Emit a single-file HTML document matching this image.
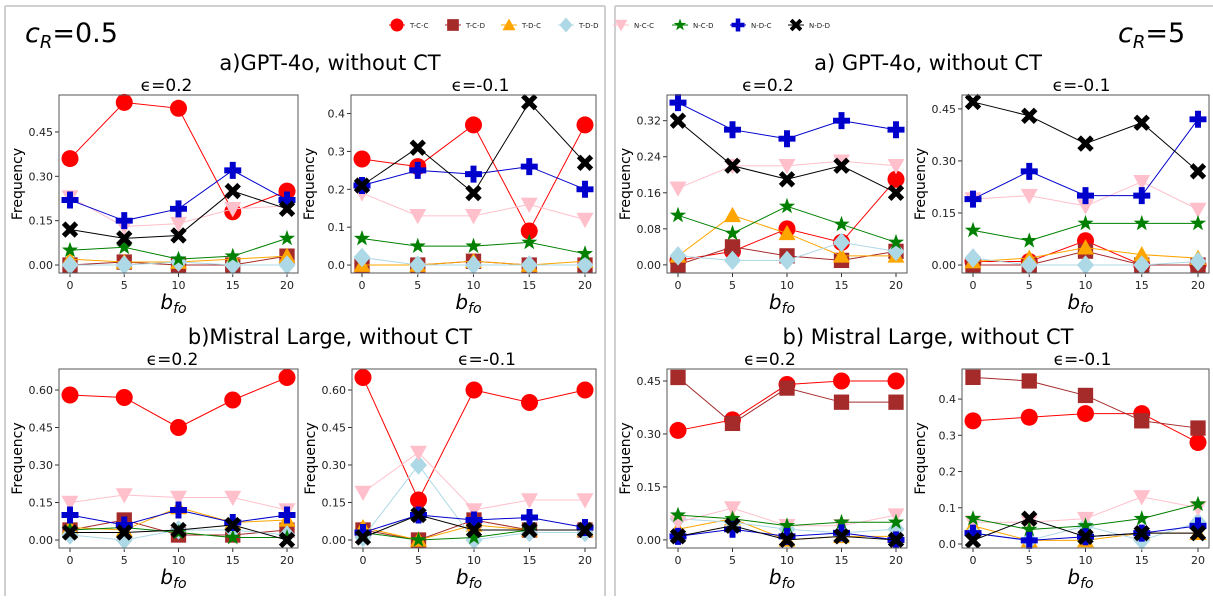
<!DOCTYPE html>
<html><head><meta charset="utf-8"><style>
body{margin:0;background:#fff;font-family:"DejaVu Sans","Liberation Sans",sans-serif}
svg text{font-family:"DejaVu Sans","Liberation Sans",sans-serif}
</style></head><body>
<svg id="fig" width="1213" height="596" xmlns="http://www.w3.org/2000/svg">
<rect x="0" y="0" width="1213" height="596" fill="#fff"/>
<path d="M5,6 H605 M5,6 V596 M605,6 V596" stroke="#d0d0d0" stroke-width="2" fill="none"/>
<path d="M615,6 H1213 M615,6 V596" stroke="#d0d0d0" stroke-width="2" fill="none"/>
<text x="25" y="42" font-size="27"><tspan font-style="italic">c</tspan><tspan font-style="italic" font-size="18" dy="6">R</tspan><tspan dy="-6">=0.5</tspan></text>
<text x="1118" y="42" font-size="27"><tspan font-style="italic">c</tspan><tspan font-style="italic" font-size="18" dy="6">R</tspan><tspan dy="-6">=5</tspan></text>
<text x="330" y="70" font-size="21" text-anchor="middle">a)GPT-4o, without CT</text>
<text x="928" y="70" font-size="21" text-anchor="middle">a) GPT-4o, without CT</text>
<text x="330" y="344" font-size="21" text-anchor="middle">b)Mistral Large, without CT</text>
<text x="928" y="344" font-size="21" text-anchor="middle">b) Mistral Large, without CT</text>
<g id="legend"></g>
<g id="plots"></g>
</svg>
<script>
const NS="http://www.w3.org/2000/svg";
const xCats=[0,5,10,15,20];
const seriesNames=["T-C-C","T-C-D","T-D-C","T-D-D","N-C-C","N-C-D","N-D-C","N-D-D"];
const seriesColors=["red","brown","orange","lightblue","pink","green","mediumblue","black"];
const seriesMarkers=["o","s","^","D","v","*","P","X"];
const p1=[[.36,.55,.53,.18,.25],[0,.01,0,0,.03],[.02,.01,.01,.02,.03],[0,0,.01,0,0],[.23,.13,.14,.19,.2],[.05,.06,.02,.03,.09],[.22,.15,.19,.32,.22],[.12,.09,.10,.25,.19]];
const p2=[[.28,.26,.37,.09,.37],[0,0,.01,0,0],[0,0,.01,0,.01],[.02,0,0,0,0],[.19,.13,.13,.16,.12],[.07,.05,.05,.06,.03],[.21,.25,.24,.26,.20],[.21,.31,.19,.43,.27]];
const p3=[[.01,.03,.08,.05,.19],[0,.04,.02,.01,.03],[.02,.11,.07,.02,.02],[.02,.01,.01,.05,.03],[.17,.22,.22,.23,.22],[.11,.07,.13,.09,.05],[.36,.30,.28,.32,.30],[.32,.22,.19,.22,.16]];
const p4=[[.01,.01,.07,0,0],[0,0,.04,0,0],[.01,.02,.05,.03,.02],[.02,0,0,0,.01],[.19,.20,.17,.24,.16],[.10,.07,.12,.12,.12],[.19,.27,.20,.20,.42],[.47,.43,.35,.41,.27]];
const p5=[[.58,.57,.45,.56,.65],[.04,.08,.02,.02,.04],[.05,.04,.13,.07,.08],[.02,0,.04,.04,.02],[.15,.18,.17,.17,.12],[.04,.05,.03,.01,.01],[.10,.06,.12,.07,.10],[.03,.03,.04,.06,0]];
const p6=[[.65,.16,.60,.55,.60],[.04,0,.08,.04,.04],[.05,0,.06,.04,.04],[.01,.30,0,.03,.03],[.19,.35,.12,.16,.16],[.03,0,.01,.04,.04],[.03,.10,.08,.09,.05],[.01,.10,.04,.04,.04]];
const p7=[[.31,.34,.44,.45,.45],[.46,.33,.43,.39,.39],[.03,.06,0,.01,.01],[.06,.05,.03,.02,.03],[.05,.09,.04,.04,.07],[.07,.06,.04,.05,.05],[.01,.03,.01,.02,0],[.01,.04,0,.01,0]];
const p8=[[.34,.35,.36,.36,.28],[.46,.45,.41,.34,.32],[.05,.01,.01,.03,.03],[.03,.01,.05,.01,.06],[.06,.06,.07,.13,.10],[.07,.04,.05,.07,.11],[.03,.01,.02,.03,.05],[.01,.07,.02,.03,.03]];
const ticks1=[0,.15,.30,.45], ticks2=[0,.1,.2,.3,.4], ticks3=[0,.08,.16,.24,.32], ticks4=[0,.15,.30,.45], ticks5=[0,.15,.30,.45,.60], ticks8=[0,.1,.2,.3,.4];
const panels=[
 {name:"gpt-cr05-eps02",d:p1,t:ticks1,dec:2,x0:59,x1:298,y0:95,y1:273,ymin:-.027,ymax:.575,eps:"ϵ=0.2",eo:-12},
 {name:"gpt-cr05-epsm01",d:p2,t:ticks2,dec:1,x0:351,x1:596,y0:95,y1:273,ymin:-.021,ymax:.449,eps:"ϵ=-0.1",eo:7},
 {name:"gpt-cr5-eps02",d:p3,t:ticks3,dec:2,x0:667,x1:907,y0:95,y1:273,ymin:-.018,ymax:.377,eps:"ϵ=0.2",eo:-19},
 {name:"gpt-cr5-epsm01",d:p4,t:ticks4,dec:2,x0:962,x1:1209,y0:95,y1:273,ymin:-.023,ymax:.49,eps:"ϵ=-0.1",eo:-4},
 {name:"mistral-cr05-eps02",d:p5,t:ticks5,dec:2,x0:59,x1:298,y0:369,y1:548,ymin:-.032,ymax:.684,eps:"ϵ=0.2",eo:-6},
 {name:"mistral-cr05-epsm01",d:p6,t:ticks5,dec:2,x0:352,x1:596,y0:369,y1:548,ymin:-.032,ymax:.684,eps:"ϵ=-0.1",eo:13},
 {name:"mistral-cr5-eps02",d:p7,t:ticks4,dec:2,x0:667,x1:907,y0:369,y1:548,ymin:-.023,ymax:.484,eps:"ϵ=0.2",eo:-17},
 {name:"mistral-cr5-epsm01",d:p8,t:ticks8,dec:1,x0:962,x1:1209,y0:369,y1:548,ymin:-.011,ymax:.483,eps:"ϵ=-0.1",eo:-3}
];
function el(tag,attrs,parent){const e=document.createElementNS(NS,tag);for(const k in attrs)e.setAttribute(k,attrs[k]);if(parent)parent.appendChild(e);return e;}
function marker(g,type,cx,cy,color,s){
 let e;
 if(type==="o") e=el("circle",{cx:cx,cy:cy,r:s},g);
 else if(type==="s") e=el("rect",{x:cx-s*0.9,y:cy-s*0.9,width:s*1.8,height:s*1.8},g);
 else if(type==="^") e=el("polygon",{points:`${cx},${cy-s} ${cx-s},${cy+s*0.8} ${cx+s},${cy+s*0.8}`},g);
 else if(type==="v") e=el("polygon",{points:`${cx},${cy+s} ${cx-s},${cy-s*0.8} ${cx+s},${cy-s*0.8}`},g);
 else if(type==="D") e=el("polygon",{points:`${cx},${cy-s*1.15} ${cx+s},${cy} ${cx},${cy+s*1.15} ${cx-s},${cy}`},g);
 else if(type==="*"){let p=[];for(let i=0;i<10;i++){const a=-Math.PI/2+i*Math.PI/5;const r=i%2?s*0.4:s;p.push((cx+r*Math.cos(a)).toFixed(1)+","+(cy+r*Math.sin(a)).toFixed(1));}e=el("polygon",{points:p.join(" ")},g);}
 else if(type==="P"){const a=s*0.35;e=el("polygon",{points:`${cx-a},${cy-s} ${cx+a},${cy-s} ${cx+a},${cy-a} ${cx+s},${cy-a} ${cx+s},${cy+a} ${cx+a},${cy+a} ${cx+a},${cy+s} ${cx-a},${cy+s} ${cx-a},${cy+a} ${cx-s},${cy+a} ${cx-s},${cy-a} ${cx-a},${cy-a}`},g);}
 else if(type==="X"){e=el("path",{d:`M${cx-s*0.75},${cy-s*0.75}L${cx+s*0.75},${cy+s*0.75}M${cx+s*0.75},${cy-s*0.75}L${cx-s*0.75},${cy+s*0.75}`,stroke:color,"stroke-width":s*0.6,"stroke-linecap":"butt"},g);return e;}
 e.setAttribute("fill",color);return e;
}
const plots=document.getElementById("plots");
panels.forEach(P=>{
 const g=el("g",{},plots);
 
 
 const xs=v=>P.x0+11+(v-xCats[0])/(xCats[xCats.length-1]-xCats[0])*(P.x1-P.x0-22);
 const ys=v=>P.y1-(v-P.ymin)/(P.ymax-P.ymin)*(P.y1-P.y0);
 P.t.forEach(t=>{const y=ys(t);el("line",{x1:P.x0-4,x2:P.x0,y1:y,y2:y,stroke:"#333"},g);
  const tx=el("text",{x:P.x0-6,y:y+4,"font-size":11,"text-anchor":"end",fill:"#222"},g);tx.textContent=t.toFixed(P.dec);
  
  });
 xCats.forEach(c=>{const x=xs(c);el("line",{x1:x,x2:x,y1:P.y1,y2:P.y1+4,stroke:"#333"},g);
  const tx=el("text",{x:x,y:P.y1+16,"font-size":11,"text-anchor":"middle",fill:"#222"},g);tx.textContent=c;
  
  });
 const yl=el("text",{x:0,y:0,"font-size":14,"text-anchor":"middle",transform:`translate(${P.x0-37},${(P.y0+P.y1)/2}) rotate(-90)`},g);yl.textContent="Frequency";
 
 
 const xl=el("text",{x:(P.x0+P.x1)/2-5,y:P.y1+36,"font-size":20,"font-style":"italic","text-anchor":"middle"},g);
 xl.innerHTML='b<tspan font-size="14" dy="4">fo</tspan>';
 
 
 const et=el("text",{x:(P.x0+P.x1)/2+P.eo,y:P.y0-4,"font-size":17,"text-anchor":"middle"},g);et.textContent=P.eps;
 
 
 const clip="c"+P.name;const cp=el("clipPath",{id:clip},g);el("rect",{x:P.x0-12,y:P.y0-12,width:P.x1-P.x0+24,height:P.y1-P.y0+24},cp);
 const sg=el("g",{"clip-path":`url(#${clip})`},g);
 P.d.forEach((vals,si)=>{
  const s=el("g",{},sg);
  
  
  el("polyline",{points:vals.map((v,i)=>xs(xCats[i])+","+ys(v)).join(" "),fill:"none",stroke:seriesColors[si],"stroke-width":1},s);
  vals.forEach((v,i)=>{const m=marker(s,seriesMarkers[si],xs(xCats[i]),ys(v),seriesColors[si],8.5);
   
   });
 });
 el("rect",{x:P.x0,y:P.y0,width:P.x1-P.x0,height:P.y1-P.y0,fill:"none",stroke:"#555","stroke-width":1},g);
});
const lg=document.getElementById("legend");
const legendX=[397,453,509,566,621,680,738,796];
seriesNames.forEach((n,i)=>{
 const it=el("g",{},lg);
 
 
 el("line",{x1:legendX[i]-8,x2:legendX[i]+8,y1:25,y2:25,stroke:seriesColors[i]},it);
 marker(it,seriesMarkers[i],legendX[i],25,seriesColors[i],6.5);
 const t=el("text",{x:legendX[i]+13,y:28,"font-size":7,fill:"#222"},it);t.textContent=n;
});
</script>
</body></html>
